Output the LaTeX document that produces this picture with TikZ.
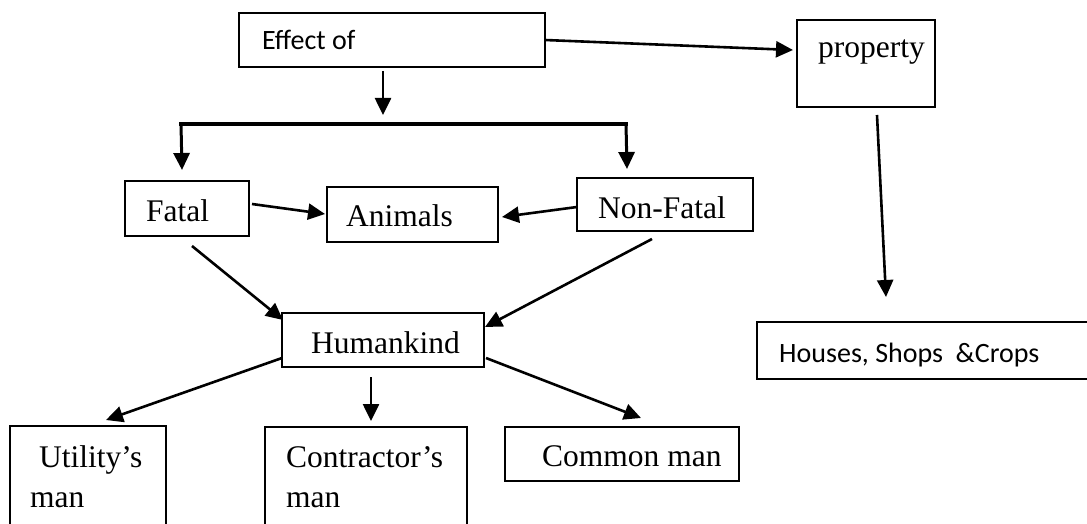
\documentclass[tikz,border=0pt]{standalone}
\usepackage{fontspec}
\setmainfont{Liberation Serif}
\newfontfamily\calfont{Carlito}
\usetikzlibrary{arrows.meta,calc}
\begin{document}
\begin{tikzpicture}[x=1pt,y=-1pt,
 box/.style={draw,line width=1.7pt,inner sep=0pt,outer sep=0pt,anchor=north west},
 tms/.style={anchor=base west,inner sep=0pt,font=\fontsize{31.5}{38}\selectfont},
 cal/.style={anchor=base west,inner sep=0pt,font=\calfont\fontsize{28}{34}\selectfont},
 arr/.style={line width=2.6pt,-{Triangle[length=17pt,width=16pt]}},
 barline/.style={line width=4.5pt},
 stem/.style={line width=3pt,-{Triangle[length=17pt,width=16pt]}}]
\useasboundingbox (0,0) rectangle (1087,524);
\clip (0,0) rectangle (1087,524);
\fill[white] (0,0) rectangle (1087,524);
% boxes
\node[box,minimum width=306pt,minimum height=54pt] (eff) at (239,13) {};
\node[cal] (efft) at (262,50) {Effect of};
\node[box,minimum width=138pt,minimum height=87pt] (prop) at (797,20) {};
\node[tms] (propt) at (818,58) {property};
\node[box,minimum width=124pt,minimum height=55pt] (fatal) at (125,181) {};
\node[tms] (fatalt) at (146,221) {Fatal};
\node[box,minimum width=171pt,minimum height=55pt] (anim) at (327,187) {};
\node[tms] (animt) at (346,226) {Animals};
\node[box,minimum width=176pt,minimum height=53pt] (nonf) at (577,178) {};
\node[tms] (nonft) at (598,218) {Non-Fatal};
\node[box,minimum width=202pt,minimum height=54pt] (hum) at (282,313) {};
\node[tms] (humt) at (311,353) {Humankind};
\node[box,minimum width=345pt,minimum height=57pt] (houses) at (757,322) {};
\node[cal] (housest) at (779,362) {Houses, Shops~~\&Crops};
\node[box,minimum width=156pt,minimum height=130pt] (util) at (10,426) {};
\node[tms] (utilt) at (39,467) {Utility’s};
\node[tms] (utilt2) at (30,507) {man};
\node[box,minimum width=202pt,minimum height=130pt] (contr) at (265,427) {};
\node[tms] (contrt) at (286,467) {Contractor’s};
\node[tms] (contrt2) at (286,507) {man};
\node[box,minimum width=234pt,minimum height=54pt] (common) at (505,427) {};
\node[tms] (commont) at (542,466) {Common man};
% bar
\coordinate (barL) at (181,124);
\coordinate (barR) at (626,124);
\coordinate (barM) at (383,124);
\draw[barline] ($(barL)+(-2,0)$) -- ($(barR)+(2,0)$);
\draw[stem] (barL) -- ($(fatal.north)+(-5,-11)$);
\draw[stem] (barR) -- ($(nonf.north)+(-38,-9)$);
\draw[arr] ($(eff.south)+(-9,4)$) -- ($(barM)+(0,-9)$);
% connectors
\draw[arr] (eff.east) -- ($(prop.west)+(-4,-13.5)$);
\draw[arr] ($(prop.south)+(11,8)$) -- ($(houses.north west)+(129,-25)$);
\draw[arr] ($(fatal.east)+(3,-4.5)$) -- ($(anim.west)+(-2,-0.5)$);
\draw[arr] ($(nonf.west)+(0,2.5)$) -- ($(anim.east)+(4,2.5)$);
\draw[arr] ($(fatal.south)+(5,10)$) -- ($(hum.north west)+(1,7)$);
\draw[arr] ($(nonf.south)+(-13,8)$) -- ($(hum.north east)+(1,14)$);
\draw[arr] ($(hum.south west)+(0,-9)$) -- ($(util.north)+(18,-6)$);
\draw[arr] ($(hum.south)+(-12,10)$) -- ($(contr.north)+(5,-6)$);
\draw[arr] ($(hum.south east)+(2,-9)$) -- ($(common.north)+(19,-9)$);
\end{tikzpicture}
\end{document}
